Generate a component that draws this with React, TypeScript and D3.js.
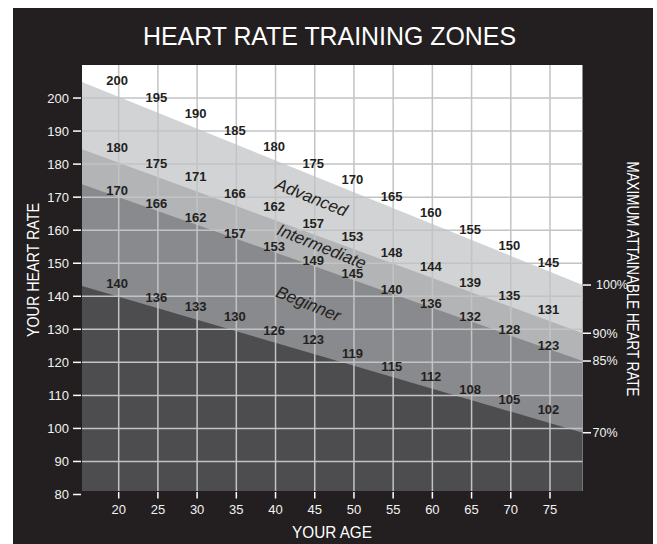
import React from 'react'
import * as d3 from 'd3'

// ages shown on the x axis and the numbers printed inside the zones
const ages = [20, 25, 30, 35, 40, 45, 50, 55, 60, 65, 70, 75]
const maxRate = [200, 195, 190, 185, 180, 175, 170, 165, 160, 155, 150, 145]
const advancedRate = [180, 175, 171, 166, 162, 157, 153, 148, 144, 139, 135, 131]
const intermediateRate = [170, 166, 162, 157, 153, 149, 145, 140, 136, 132, 128, 123]
const beginnerRate = [140, 136, 133, 130, 126, 123, 119, 115, 112, 108, 105, 102]

// zone boundaries, read at the left and right edges of the plot
const edgeAges = [15.32, 79.17]
const line100 = [204.85, 143.4]
const line90 = [184.5, 128.8]
const line85 = [173.9, 120.4]
const line70 = [143.1, 98.7]

const pctLabels = ['100%', '90%', '85%', '70%']
const yTicks = [80, 90, 100, 110, 120, 130, 140, 150, 160, 170, 180, 190, 200]
const gridY = [90, 100, 110, 120, 130, 140, 150, 160, 170, 180, 190, 200]

const zoneNames = ['Advanced', 'Intermediate', 'Beginner']
const zoneAges = [44.6, 45.9, 44.2]
const zoneRates = [170.0, 155.1, 137.8]

const W = 657
const H = 544
const BG = '#231f20'
const plot = { left: 82, right: 582.7, top: 65, bottom: 491 }

export default function App() {
  const x = d3.scaleLinear().domain([15.32, 79.17]).range([plot.left, plot.right])
  const y = d3.scaleLinear().domain([80, 210]).range([494.5, 65])

  const bands = [
    { vals: line100, fill: '#d1d3d4' },
    { vals: line90, fill: '#b2b4b6' },
    { vals: line85, fill: '#898a8d' },
    { vals: line70, fill: '#4d4d4f' }
  ]
  const area = d3.area<[number, number]>()
    .x(d => x(d[0]))
    .y0(plot.bottom)
    .y1(d => y(d[1]))

  const rows = [
    { vals: maxRate, off: 17.5 },
    { vals: advancedRate, off: 17 },
    { vals: intermediateRate, off: 6.5 },
    { vals: beginnerRate, off: 12.5 }
  ]
  const pctVals = [line100[1], line90[1], line85[1], line70[1]]

  const cond = "'Liberation Sans Narrow', 'Liberation Sans', Arial, sans-serif"
  const sans = "'Liberation Sans', Arial, sans-serif"

  return (
    <svg width={W} height={H} style={{ position: 'absolute', left: 0, top: 0 }}>
      <rect x={0} y={0} width={W} height={H} fill="#fff" />
      <rect x={13} y={8} width={640} height={536} fill={BG} />

      <text x={329.5} y={45} textAnchor="middle" fill="#fff" fontFamily={cond}
        fontSize={25} textLength={373} lengthAdjust="spacingAndGlyphs">
        HEART RATE TRAINING ZONES
      </text>

      <defs>
        <clipPath id="plot-clip">
          <rect x={plot.left} y={plot.top} width={plot.right - plot.left} height={plot.bottom - plot.top} />
        </clipPath>
      </defs>

      <g clipPath="url(#plot-clip)">
        <rect x={plot.left} y={plot.top} width={plot.right - plot.left} height={plot.bottom - plot.top} fill="#fff" />
        {bands.map((b, i) => (
          <path key={i} d={area(edgeAges.map((a, j) => [a, b.vals[j]] as [number, number])) || ''} fill={b.fill} />
        ))}
        {gridY.map(v => (
          <line key={'h' + v} x1={plot.left} x2={plot.right} y1={y(v)} y2={y(v)} stroke="#c2c3c5" strokeWidth={1.5} />
        ))}
        {ages.map(a => (
          <line key={'v' + a} x1={x(a)} x2={x(a)} y1={plot.top} y2={plot.bottom} stroke="#c2c3c5" strokeWidth={1.5} />
        ))}

        {rows.map((r, i) => r.vals.map((v, j) => (
          <text key={i + '-' + j} x={x(ages[j]) - 1.5} y={y(v) - r.off} dy="0.35em" textAnchor="middle"
            fontFamily={sans} fontWeight="bold" fontSize={13} fill={BG}>
            {v}
          </text>
        )))}

        {zoneNames.map((n, i) => {
          const px = x(zoneAges[i])
          const py = y(zoneRates[i])
          return (
            <text key={n} x={px} y={py} dy="0.35em" textAnchor="middle" fontFamily={sans}
              fontStyle="italic" fontSize={17} fill={BG} transform={`rotate(22, ${px}, ${py})`}>
              {n}
            </text>
          )
        })}
      </g>

      {/* left axis */}
      {yTicks.map(v => (
        <g key={'yt' + v}>
          <line x1={73} x2={81} y1={y(v)} y2={y(v)} stroke="#fff" strokeWidth={1.5} />
          <text x={69} y={y(v)} dy="0.35em" textAnchor="end" fontFamily={sans} fontSize={13} fill="#f2f2f2">{v}</text>
        </g>
      ))}

      {/* bottom axis */}
      {ages.map(a => (
        <g key={'xt' + a}>
          <line x1={x(a)} x2={x(a)} y1={492} y2={498.5} stroke="#fff" strokeWidth={1.5} />
          <text x={x(a)} y={513.5} textAnchor="middle" fontFamily={sans} fontSize={13} fill="#f2f2f2">{a}</text>
        </g>
      ))}

      {/* right percentage ticks */}
      {pctLabels.map((p, i) => (
        <g key={p}>
          <line x1={583} x2={591} y1={y(pctVals[i])} y2={y(pctVals[i])} stroke="#fff" strokeWidth={1.5} />
          <text x={i === 0 ? 596 : 592.5} y={y(pctVals[i])} dy="0.35em" fontFamily={sans} fontSize={12.5} fill="#f2f2f2">{p}</text>
        </g>
      ))}

      <text x={332} y={538} textAnchor="middle" fill="#fff" fontFamily={cond} fontSize={16}
        textLength={80} lengthAdjust="spacingAndGlyphs">
        YOUR AGE
      </text>
      <text transform="translate(38.5, 270) rotate(-90)" textAnchor="middle" fill="#fff" fontFamily={cond}
        fontSize={17} textLength={134} lengthAdjust="spacingAndGlyphs">
        YOUR HEART RATE
      </text>
      <text transform="translate(627, 279) rotate(90)" textAnchor="middle" fill="#fff" fontFamily={cond}
        fontSize={17} textLength={235} lengthAdjust="spacingAndGlyphs">
        MAXIMUM ATTAINABLE HEART RATE
      </text>
    </svg>
  )
}
